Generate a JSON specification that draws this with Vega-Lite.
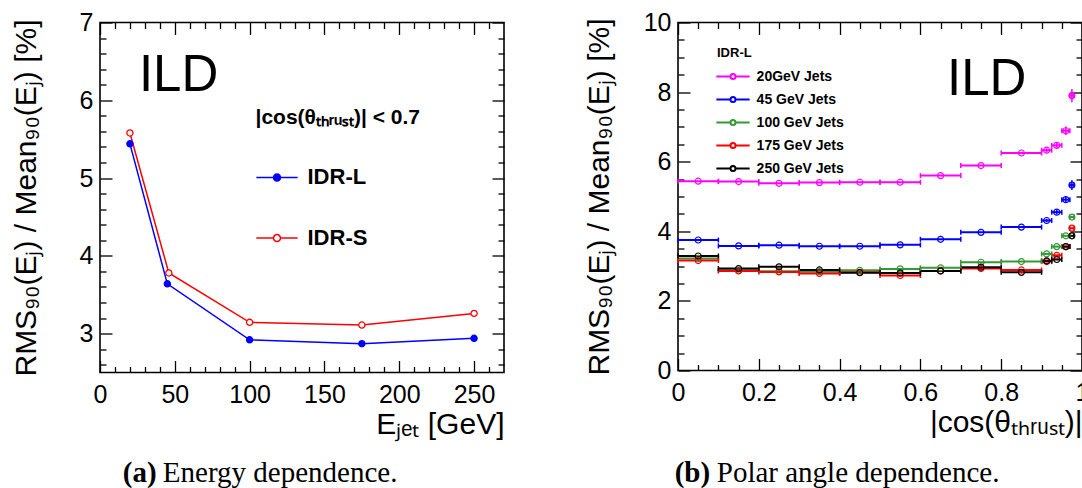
{
  "$schema": "https://vega.github.io/schema/vega-lite/v6.json",
  "autosize": {"type": "pad"},
  "padding": {"left": 10, "top": 9.5, "right": 0, "bottom": 0},
  "spacing": 77,
  "resolve": {"scale": {"stroke": "independent", "fill": "independent"}, "legend": {"stroke": "independent", "fill": "independent"}},
  "datasets": {
    "left": [
      {"s": "IDR-L", "e": 20, "v": 5.44},
      {"s": "IDR-L", "e": 45, "v": 3.64},
      {"s": "IDR-L", "e": 100, "v": 2.92},
      {"s": "IDR-L", "e": 175, "v": 2.87},
      {"s": "IDR-L", "e": 250, "v": 2.94},
      {"s": "IDR-S", "e": 20, "v": 5.58},
      {"s": "IDR-S", "e": 46, "v": 3.78},
      {"s": "IDR-S", "e": 100, "v": 3.145},
      {"s": "IDR-S", "e": 175, "v": 3.11},
      {"s": "IDR-S", "e": 250, "v": 3.26}
    ],
    "right": [
      {"s": "20GeV Jets", "lo": 0, "hi": 0.1, "x": 0.05, "y": 5.44},
      {"s": "20GeV Jets", "lo": 0.1, "hi": 0.2, "x": 0.15, "y": 5.43},
      {"s": "20GeV Jets", "lo": 0.2, "hi": 0.3, "x": 0.25, "y": 5.38},
      {"s": "20GeV Jets", "lo": 0.3, "hi": 0.4, "x": 0.35, "y": 5.4},
      {"s": "20GeV Jets", "lo": 0.4, "hi": 0.5, "x": 0.45, "y": 5.41},
      {"s": "20GeV Jets", "lo": 0.5, "hi": 0.6, "x": 0.55, "y": 5.41},
      {"s": "20GeV Jets", "lo": 0.6, "hi": 0.7, "x": 0.65, "y": 5.6},
      {"s": "20GeV Jets", "lo": 0.7, "hi": 0.8, "x": 0.75, "y": 5.89},
      {"s": "20GeV Jets", "lo": 0.8, "hi": 0.9, "x": 0.85, "y": 6.25},
      {"s": "20GeV Jets", "lo": 0.9, "hi": 0.925, "x": 0.9125, "y": 6.33, "el": 6.27, "eh": 6.39},
      {"s": "20GeV Jets", "lo": 0.925, "hi": 0.95, "x": 0.9375, "y": 6.47, "el": 6.4, "eh": 6.54},
      {"s": "20GeV Jets", "lo": 0.95, "hi": 0.97, "x": 0.96, "y": 6.89, "el": 6.77, "eh": 7.01},
      {"s": "20GeV Jets", "lo": 0.97, "hi": 0.98, "x": 0.975, "y": 7.9, "el": 7.71, "eh": 8.09},
      {"s": "45 GeV Jets", "lo": 0, "hi": 0.1, "x": 0.05, "y": 3.75},
      {"s": "45 GeV Jets", "lo": 0.1, "hi": 0.2, "x": 0.15, "y": 3.58},
      {"s": "45 GeV Jets", "lo": 0.2, "hi": 0.3, "x": 0.25, "y": 3.6},
      {"s": "45 GeV Jets", "lo": 0.3, "hi": 0.4, "x": 0.35, "y": 3.57},
      {"s": "45 GeV Jets", "lo": 0.4, "hi": 0.5, "x": 0.45, "y": 3.57},
      {"s": "45 GeV Jets", "lo": 0.5, "hi": 0.6, "x": 0.55, "y": 3.61},
      {"s": "45 GeV Jets", "lo": 0.6, "hi": 0.7, "x": 0.65, "y": 3.77},
      {"s": "45 GeV Jets", "lo": 0.7, "hi": 0.8, "x": 0.75, "y": 3.97},
      {"s": "45 GeV Jets", "lo": 0.8, "hi": 0.9, "x": 0.85, "y": 4.12},
      {"s": "45 GeV Jets", "lo": 0.9, "hi": 0.925, "x": 0.9125, "y": 4.31, "el": 4.26, "eh": 4.36},
      {"s": "45 GeV Jets", "lo": 0.925, "hi": 0.95, "x": 0.9375, "y": 4.55, "el": 4.49, "eh": 4.61},
      {"s": "45 GeV Jets", "lo": 0.95, "hi": 0.97, "x": 0.96, "y": 4.91, "el": 4.82, "eh": 5.0},
      {"s": "45 GeV Jets", "lo": 0.97, "hi": 0.98, "x": 0.975, "y": 5.33, "el": 5.19, "eh": 5.47},
      {"s": "100 GeV Jets", "lo": 0, "hi": 0.1, "x": 0.05, "y": 3.22},
      {"s": "100 GeV Jets", "lo": 0.1, "hi": 0.2, "x": 0.15, "y": 2.88},
      {"s": "100 GeV Jets", "lo": 0.2, "hi": 0.3, "x": 0.25, "y": 2.85},
      {"s": "100 GeV Jets", "lo": 0.3, "hi": 0.4, "x": 0.35, "y": 2.84},
      {"s": "100 GeV Jets", "lo": 0.4, "hi": 0.5, "x": 0.45, "y": 2.88},
      {"s": "100 GeV Jets", "lo": 0.5, "hi": 0.6, "x": 0.55, "y": 2.92},
      {"s": "100 GeV Jets", "lo": 0.6, "hi": 0.7, "x": 0.65, "y": 2.95},
      {"s": "100 GeV Jets", "lo": 0.7, "hi": 0.8, "x": 0.75, "y": 3.11},
      {"s": "100 GeV Jets", "lo": 0.8, "hi": 0.9, "x": 0.85, "y": 3.13},
      {"s": "100 GeV Jets", "lo": 0.9, "hi": 0.925, "x": 0.9125, "y": 3.35},
      {"s": "100 GeV Jets", "lo": 0.925, "hi": 0.95, "x": 0.9375, "y": 3.56},
      {"s": "100 GeV Jets", "lo": 0.95, "hi": 0.97, "x": 0.96, "y": 3.87},
      {"s": "100 GeV Jets", "lo": 0.97, "hi": 0.98, "x": 0.975, "y": 4.41},
      {"s": "175 GeV Jets", "lo": 0, "hi": 0.1, "x": 0.05, "y": 3.16},
      {"s": "175 GeV Jets", "lo": 0.1, "hi": 0.2, "x": 0.15, "y": 2.86},
      {"s": "175 GeV Jets", "lo": 0.2, "hi": 0.3, "x": 0.25, "y": 2.83},
      {"s": "175 GeV Jets", "lo": 0.3, "hi": 0.4, "x": 0.35, "y": 2.79},
      {"s": "175 GeV Jets", "lo": 0.4, "hi": 0.5, "x": 0.45, "y": 2.82},
      {"s": "175 GeV Jets", "lo": 0.5, "hi": 0.6, "x": 0.55, "y": 2.73},
      {"s": "175 GeV Jets", "lo": 0.6, "hi": 0.7, "x": 0.65, "y": 2.86},
      {"s": "175 GeV Jets", "lo": 0.7, "hi": 0.8, "x": 0.75, "y": 2.93},
      {"s": "175 GeV Jets", "lo": 0.8, "hi": 0.9, "x": 0.85, "y": 2.89},
      {"s": "175 GeV Jets", "lo": 0.9, "hi": 0.925, "x": 0.9125, "y": 3.13},
      {"s": "175 GeV Jets", "lo": 0.925, "hi": 0.95, "x": 0.9375, "y": 3.31},
      {"s": "175 GeV Jets", "lo": 0.95, "hi": 0.97, "x": 0.96, "y": 3.56},
      {"s": "175 GeV Jets", "lo": 0.97, "hi": 0.98, "x": 0.975, "y": 4.09},
      {"s": "250 GeV Jets", "lo": 0, "hi": 0.1, "x": 0.05, "y": 3.29},
      {"s": "250 GeV Jets", "lo": 0.1, "hi": 0.2, "x": 0.15, "y": 2.93},
      {"s": "250 GeV Jets", "lo": 0.2, "hi": 0.3, "x": 0.25, "y": 2.98},
      {"s": "250 GeV Jets", "lo": 0.3, "hi": 0.4, "x": 0.35, "y": 2.89},
      {"s": "250 GeV Jets", "lo": 0.4, "hi": 0.5, "x": 0.45, "y": 2.81},
      {"s": "250 GeV Jets", "lo": 0.5, "hi": 0.6, "x": 0.55, "y": 2.8},
      {"s": "250 GeV Jets", "lo": 0.6, "hi": 0.7, "x": 0.65, "y": 2.86},
      {"s": "250 GeV Jets", "lo": 0.7, "hi": 0.8, "x": 0.75, "y": 2.97},
      {"s": "250 GeV Jets", "lo": 0.8, "hi": 0.9, "x": 0.85, "y": 2.82},
      {"s": "250 GeV Jets", "lo": 0.9, "hi": 0.925, "x": 0.9125, "y": 3.15},
      {"s": "250 GeV Jets", "lo": 0.925, "hi": 0.95, "x": 0.9375, "y": 3.19},
      {"s": "250 GeV Jets", "lo": 0.95, "hi": 0.97, "x": 0.96, "y": 3.56},
      {"s": "250 GeV Jets", "lo": 0.97, "hi": 0.98, "x": 0.975, "y": 3.87}
    ]
  },
  "config": {
    "font": "Liberation Sans",
    "view": {"stroke": "black", "strokeWidth": 1.6},
    "axis": {
      "domain": false, "grid": false, "tickColor": "black", "tickWidth": 1.3,
      "labelColor": "black", "labelFontSize": 25, "labelFont": "Liberation Sans",
      "titleFont": "Liberation Sans", "titleFontWeight": "normal", "titleColor": "black",
      "titleFontSize": 30, "labelOverlap": false, "labelFlush": false
    },
    "legend": {"padding": 0}
  },
  "hconcat": [
    {
      "width": 404, "height": 350,
      "layer": [
        {
          "data": {"name": "left"},
          "encoding": {
            "x": {"field": "e", "type": "quantitative", "scale": {"domain": [0, 270], "nice": false, "zero": false}, "axis": null},
            "y": {"field": "v", "type": "quantitative", "scale": {"domain": [2.5, 7], "nice": false, "zero": false}, "axis": null}
          },
          "layer": [
            {
              "mark": {"type": "line", "strokeWidth": 1.5},
              "encoding": {
                "stroke": {"field": "s", "type": "nominal",
                  "scale": {"domain": ["IDR-L", "IDR-S"], "range": ["#0000ff", "#ff0000"]},
                  "legend": {"title": "|cos(θₜₕᵣᵤₛₜ)| < 0.7", "orient": "none", "legendX": 155.5, "legendY": 84,
                    "titleFontSize": 21, "titleFontWeight": "bold", "titleColor": "black", "titlePadding": 28.4,
                    "titleLimit": 400, "labelFontSize": 22, "labelFontWeight": "bold", "labelColor": "black",
                    "labelOffset": 9, "symbolType": "M-1,0L-0.17,0M0.17,0L1,0M0.17,0A0.17,0.17,0,1,1,-0.17,0A0.17,0.17,0,1,1,0.17,0Z",
                    "symbolSize": 1706, "symbolStrokeWidth": 1.5, "rowPadding": 27.7}}
              }
            },
            {
              "mark": {"type": "point", "shape": "circle", "size": 38, "opacity": 1, "strokeWidth": 1.3, "filled": false},
              "encoding": {
                "stroke": {"field": "s", "type": "nominal",
                  "scale": {"domain": ["IDR-L", "IDR-S"], "range": ["#0000ff", "#ff0000"]}},
                "fill": {"field": "s", "type": "nominal",
                  "scale": {"domain": ["IDR-L", "IDR-S"], "range": ["#0000ff", "#ffffff"]},
                  "legend": {"title": "|cos(θₜₕᵣᵤₛₜ)| < 0.7", "orient": "none", "legendX": 155.5, "legendY": 84,
                    "titleFontSize": 21, "titleFontWeight": "bold", "titleColor": "black", "titlePadding": 28.4,
                    "titleLimit": 400, "labelFontSize": 22, "labelFontWeight": "bold", "labelColor": "black",
                    "labelOffset": 9, "symbolType": "M-1,0L-0.17,0M0.17,0L1,0M0.17,0A0.17,0.17,0,1,1,-0.17,0A0.17,0.17,0,1,1,0.17,0Z",
                    "symbolSize": 1706, "symbolStrokeWidth": 1.5, "rowPadding": 27.7}}
              }
            }
          ]
        },
        {
          "data": {"values": [{}]},
          "mark": {"type": "text", "text": "ILD", "fontSize": 51, "align": "left", "baseline": "alphabetic", "color": "black"},
          "encoding": {
            "x": {"datum": 26, "type": "quantitative", "scale": {"domain": [0, 270], "nice": false, "zero": false},
              "axis": {"orient": "bottom", "title": "Eⱼₑₜ [GeV]", "titleAnchor": "end", "titlePadding": 2, "labelOverlap": false,
                "values": [0, 50, 100, 150, 200, 250], "tickSize": -12, "labelPadding": 22}},
            "y": {"datum": 6.12, "type": "quantitative", "scale": {"domain": [2.5, 7], "nice": false, "zero": false},
              "axis": {"orient": "left", "title": "RMS₉₀(Eⱼ) / Mean₉₀(Eⱼ) [%]", "titlePadding": 38, "labelOverlap": false,
                "values": [3, 4, 5, 6, 7], "tickSize": -12, "labelPadding": 19}}
          }
        },
        {
          "data": {"values": [{}]},
          "mark": {"type": "text", "text": "(a)", "font": "Liberation Serif", "fontSize": 29, "fontWeight": "bold", "align": "right", "baseline": "alphabetic", "color": "black"},
          "encoding": {
            "x": {"datum": 37.8, "type": "quantitative", "scale": {"domain": [0, 270], "nice": false, "zero": false},
              "axis": {"orient": "top", "title": null, "labels": false, "values": [0, 50, 100, 150, 200, 250], "tickSize": -12}},
            "y": {"datum": 1.09, "type": "quantitative", "scale": {"domain": [2.5, 7], "nice": false, "zero": false},
              "axis": {"orient": "right", "title": null, "labels": false, "values": [3, 4, 5, 6, 7], "tickSize": -12}}
          }
        },
        {
          "data": {"values": [{}]},
          "mark": {"type": "text", "text": "Energy dependence.", "font": "Liberation Serif", "fontSize": 29, "align": "left", "baseline": "alphabetic", "color": "black"},
          "encoding": {
            "x": {"datum": 42.0, "type": "quantitative", "scale": {"domain": [0, 270], "nice": false, "zero": false},
              "axis": {"orient": "bottom", "title": null, "labels": false, "tickSize": -6,
                "values": [10,20,30,40,60,70,80,90,110,120,130,140,160,170,180,190,210,220,230,240,260]}},
            "y": {"datum": 1.09, "type": "quantitative", "scale": {"domain": [2.5, 7], "nice": false, "zero": false},
              "axis": {"orient": "left", "title": null, "labels": false, "tickSize": -6,
                "values": [2.6,2.8,3.2,3.4,3.6,3.8,4.2,4.4,4.6,4.8,5.2,5.4,5.6,5.8,6.2,6.4,6.6,6.8]}}
          }
        },
        {
          "data": {"values": [{}]},
          "mark": {"type": "text", "text": "", "fontSize": 10},
          "encoding": {
            "x": {"datum": 100, "type": "quantitative", "scale": {"domain": [0, 270], "nice": false, "zero": false},
              "axis": {"orient": "top", "title": null, "labels": false, "tickSize": -6,
                "values": [10,20,30,40,60,70,80,90,110,120,130,140,160,170,180,190,210,220,230,240,260]}},
            "y": {"datum": 5, "type": "quantitative", "scale": {"domain": [2.5, 7], "nice": false, "zero": false},
              "axis": {"orient": "right", "title": null, "labels": false, "tickSize": -6,
                "values": [2.6,2.8,3.2,3.4,3.6,3.8,4.2,4.4,4.6,4.8,5.2,5.4,5.6,5.8,6.2,6.4,6.6,6.8]}}
          }
        }
      ],
      "resolve": {"axis": {"x": "independent", "y": "independent"}}
    },
    {
      "width": 404, "height": 348,
      "layer": [
        {
          "data": {"name": "right"},
          "encoding": {
            "y": {"field": "y", "type": "quantitative", "scale": {"domain": [0, 10], "nice": false, "zero": false}, "axis": null},
            "stroke": {"field": "s", "type": "nominal", "legend": null,
              "scale": {"domain": ["20GeV Jets", "45 GeV Jets", "100 GeV Jets", "175 GeV Jets", "250 GeV Jets"],
                "range": ["#ff00ff", "#0000ff", "#339933", "#ff0000", "#000000"]}}
          },
          "layer": [
            {
              "mark": {"type": "rule", "strokeWidth": 2},
              "encoding": {
                "x": {"field": "lo", "type": "quantitative", "scale": {"domain": [0, 1], "nice": false, "zero": false}, "axis": null},
                "x2": {"field": "hi"},
                "stroke": {"field": "s", "type": "nominal",
                  "scale": {"domain": ["20GeV Jets", "45 GeV Jets", "100 GeV Jets", "175 GeV Jets", "250 GeV Jets"],
                    "range": ["#ff00ff", "#0000ff", "#339933", "#ff0000", "#000000"]},
                  "legend": {"title": "IDR-L", "orient": "none", "legendX": 39, "legendY": 24.5,
                    "titleFontSize": 13, "titleFontWeight": "bold", "titleColor": "black", "titlePadding": 0.6,
                    "labelFontSize": 14, "labelFontWeight": "bold", "labelColor": "black", "labelOffset": 7.6,
                    "symbolType": "M-1.11,0L-0.167,0M0.167,0L1.11,0M0.167,0A0.167,0.167,0,1,1,-0.167,0A0.167,0.167,0,1,1,0.167,0Z",
                    "symbolSize": 900, "symbolStrokeWidth": 2, "rowPadding": 0}}
              }
            },
            {
              "mark": {"type": "point", "shape": "M0,-1L0,1", "size": 25, "strokeWidth": 1.5, "filled": false, "opacity": 1},
              "encoding": {
                "x": {"field": "lo", "type": "quantitative", "scale": {"domain": [0, 1], "nice": false, "zero": false}, "axis": null}
              }
            },
            {
              "mark": {"type": "point", "shape": "M0,-1L0,1", "size": 25, "strokeWidth": 1.5, "filled": false, "opacity": 1},
              "encoding": {
                "x": {"field": "hi", "type": "quantitative", "scale": {"domain": [0, 1], "nice": false, "zero": false}, "axis": null}
              }
            },
            {
              "transform": [{"filter": "isValid(datum.el)"}],
              "mark": {"type": "rule", "strokeWidth": 1.5},
              "encoding": {
                "x": {"field": "x", "type": "quantitative", "scale": {"domain": [0, 1], "nice": false, "zero": false}, "axis": null},
                "y": {"field": "el", "type": "quantitative", "scale": {"domain": [0, 10], "nice": false, "zero": false}, "axis": null},
                "y2": {"field": "eh"}
              }
            },
            {
              "mark": {"type": "point", "shape": "circle", "size": 36, "strokeWidth": 1.2, "filled": false, "opacity": 1},
              "encoding": {
                "x": {"field": "x", "type": "quantitative", "scale": {"domain": [0, 1], "nice": false, "zero": false}, "axis": null}
              }
            }
          ]
        },
        {
          "data": {"values": [{}]},
          "mark": {"type": "text", "text": "ILD", "fontSize": 51, "align": "left", "baseline": "alphabetic", "color": "black"},
          "encoding": {
            "x": {"datum": 0.666, "type": "quantitative", "scale": {"domain": [0, 1], "nice": false, "zero": false},
              "axis": {"orient": "bottom", "title": "|cos(θₜₕᵣᵤₛₜ)|", "titleAnchor": "end", "titlePadding": 2, "format": "~g", "labelOverlap": false,
                "values": [0, 0.2, 0.4, 0.6, 0.8, 1], "tickSize": -12, "labelPadding": 22}},
            "y": {"datum": 7.93, "type": "quantitative", "scale": {"domain": [0, 10], "nice": false, "zero": false},
              "axis": {"orient": "left", "title": "RMS₉₀(Eⱼ) / Mean₉₀(Eⱼ) [%]", "titlePadding": 28.5, "labelOverlap": false,
                "values": [0, 2, 4, 6, 8, 10], "tickSize": -12, "labelPadding": 19}}
          }
        },
        {
          "data": {"values": [{}]},
          "mark": {"type": "text", "text": "(b)", "font": "Liberation Serif", "fontSize": 29, "fontWeight": "bold", "align": "right", "baseline": "alphabetic", "color": "black"},
          "encoding": {
            "x": {"datum": 0.0796, "type": "quantitative", "scale": {"domain": [0, 1], "nice": false, "zero": false},
              "axis": {"orient": "top", "title": null, "labels": false, "values": [0, 0.2, 0.4, 0.6, 0.8, 1], "tickSize": -12}},
            "y": {"datum": -3.2, "type": "quantitative", "scale": {"domain": [0, 10], "nice": false, "zero": false},
              "axis": {"orient": "right", "title": null, "labels": false, "values": [0, 2, 4, 6, 8, 10], "tickSize": -12}}
          }
        },
        {
          "data": {"values": [{}]},
          "mark": {"type": "text", "text": "Polar angle dependence.", "font": "Liberation Serif", "fontSize": 29, "align": "left", "baseline": "alphabetic", "color": "black"},
          "encoding": {
            "x": {"datum": 0.096, "type": "quantitative", "scale": {"domain": [0, 1], "nice": false, "zero": false},
              "axis": {"orient": "bottom", "title": null, "labels": false, "tickSize": -6,
                "values": [0.05,0.1,0.15,0.25,0.3,0.35,0.45,0.5,0.55,0.65,0.7,0.75,0.85,0.9,0.95]}},
            "y": {"datum": -3.2, "type": "quantitative", "scale": {"domain": [0, 10], "nice": false, "zero": false},
              "axis": {"orient": "left", "title": null, "labels": false, "tickSize": -6,
                "values": [0.5,1,1.5,2.5,3,3.5,4.5,5,5.5,6.5,7,7.5,8.5,9,9.5]}}
          }
        },
        {
          "data": {"values": [{}]},
          "mark": {"type": "text", "text": "", "fontSize": 10},
          "encoding": {
            "x": {"datum": 0.5, "type": "quantitative", "scale": {"domain": [0, 1], "nice": false, "zero": false},
              "axis": {"orient": "top", "title": null, "labels": false, "tickSize": -6,
                "values": [0.05,0.1,0.15,0.25,0.3,0.35,0.45,0.5,0.55,0.65,0.7,0.75,0.85,0.9,0.95]}},
            "y": {"datum": 5, "type": "quantitative", "scale": {"domain": [0, 10], "nice": false, "zero": false},
              "axis": {"orient": "right", "title": null, "labels": false, "tickSize": -6,
                "values": [0.5,1,1.5,2.5,3,3.5,4.5,5,5.5,6.5,7,7.5,8.5,9,9.5]}}
          }
        }
      ],
      "resolve": {"axis": {"x": "independent", "y": "independent"}}
    }
  ]
}
